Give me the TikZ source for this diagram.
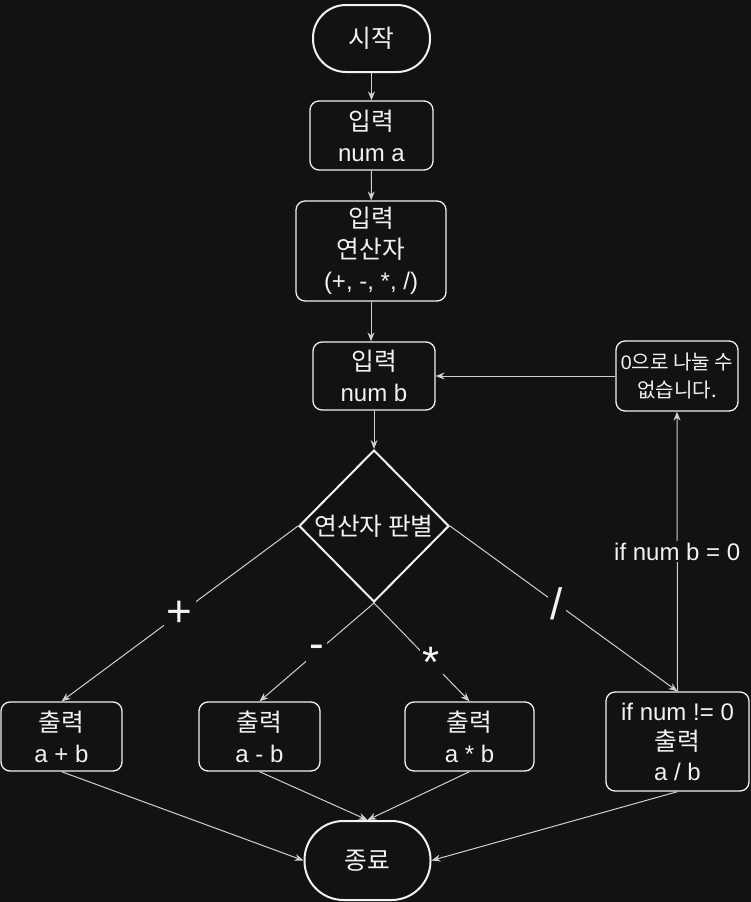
\documentclass[tikz,border=0pt]{standalone}
\usepackage{fontspec}
\setmainfont{Liberation Sans}
\newfontfamily\kr{Noto Sans CJK KR}[Scale=1.03]
\usetikzlibrary{shapes.geometric,arrows.meta}
\definecolor{bgdark}{HTML}{121212}
\definecolor{ink}{HTML}{F2F2F2}

\begin{document}
\begin{tikzpicture}[x=1pt, y=-1pt,
    every node/.style={text=ink, font=\fontsize{24}{31}\selectfont, align=center, inner sep=0pt},
    box/.style={draw=ink, line width=1.3pt, rounded corners=9pt, fill=bgdark},
    term/.style={draw=ink, line width=2pt, fill=bgdark},
    flow/.style={draw=ink!85!bgdark, line width=1pt, -{Stealth[length=9pt,width=7pt,inset=3pt]}},
    sign/.style={fill=bgdark, inner sep=3pt, font=\fontsize{44}{44}\selectfont},
    cond/.style={fill=bgdark, inner sep=2pt, font=\fontsize{24}{28}\selectfont}]
  \fill[bgdark] (0,0) rectangle (751,902);
  \useasboundingbox (0,0) rectangle (751,902);
        \node[term, rounded corners=33pt, minimum width=117pt, minimum height=67pt] (start) at (371.5,38.5) {\kr 시작};
        \node[box, minimum width=123pt, minimum height=69pt] (numa) at (371.5,135.5) {{\kr 입력}\\num a};
        \node[box, minimum width=150pt, minimum height=100pt] (oper) at (371,251) {{\kr 입력}\\{\kr 연산자}\\(+, -, *, /)};
        \node[box, minimum width=122pt, minimum height=68pt] (numb) at (374,376) {{\kr 입력}\\num b};
        \node[diamond, draw=ink, line width=2pt, fill=bgdark, minimum width=150pt, minimum height=152pt] (judge) at (374,526) {\kr 연산자 판별};
        \node[box, minimum width=122pt, minimum height=70pt, font=\fontsize{19.5}{28}\selectfont] (zero) at (677,376) {0{\kr 으로 나눌 수}\\{\kr 없습니다.}};
        \node[box, minimum width=121pt, minimum height=69pt] (add) at (61.5,736.5) {{\kr 출력}\\a + b};
        \node[box, minimum width=121pt, minimum height=69pt] (sub) at (259.5,736.5) {{\kr 출력}\\a - b};
        \node[box, minimum width=129pt, minimum height=69pt] (mul) at (469.5,736.5) {{\kr 출력}\\a * b};
        \node[box, minimum width=143pt, minimum height=99pt, font=\fontsize{24}{30}\selectfont] (div) at (677.5,741.5) {if num != 0\\{\kr 출력}\\a / b};
        \node[term, rounded corners=39pt, minimum width=126pt, minimum height=79pt] (stop) at (367.5,860.5) {\kr 종료};
        \draw[flow] (start) -- (numa);
        \draw[flow] (numa) -- (oper);
        \draw[flow] (oper.south) -- (oper.south |- numb.north);
        \draw[flow] (numb) -- (judge);
        \draw[flow] (judge.west) -- node[sign] {+} (add.north);
        \draw[flow] (judge.south) -- node[sign] {-} (sub.north);
        \draw[flow] (judge.south) -- node[sign, pos=0.6] {*} (mul.north);
        \draw[flow] (judge.east) -- node[sign, pos=0.47] {/} (div.north);
        \draw[flow] (div.north) -- node[cond] {if num b = 0} (zero.south);
        \draw[flow] (zero.west) -- (numb.east);
        \draw[flow] (add.south) -- (stop.west);
        \draw[flow] (sub.south) -- (stop.north);
        \draw[flow] (mul.south) -- (stop.north);
        \draw[flow] (div.south) -- (stop.east);
      \end{tikzpicture}
\end{document}
